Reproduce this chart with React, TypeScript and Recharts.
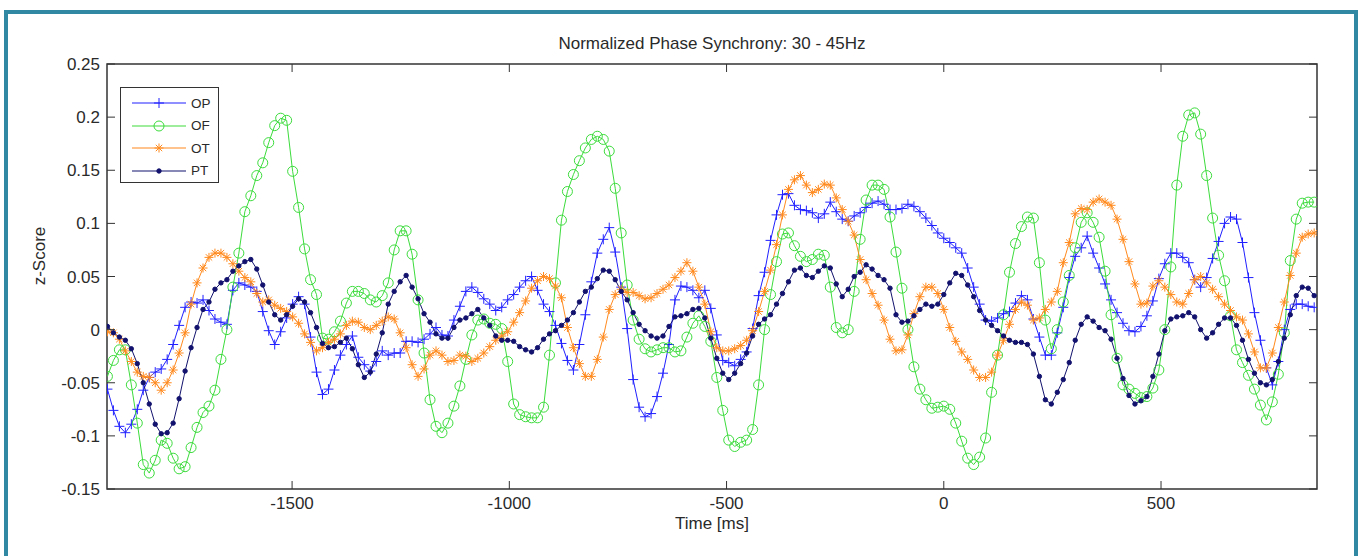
import React from "react";
import { LineChart, Line, XAxis, YAxis, ReferenceArea, Legend } from "recharts";

// sampling of the recording (ms)
const SAMPLE_START = -1925;
const SAMPLE_STEP = 13.75;

const op = [
  -0.056, -0.076, -0.091, -0.097, -0.089, -0.075, -0.057, -0.045, -0.04, -0.037,
  -0.028, -0.014, 0.004, 0.021, 0.026, 0.025, 0.028, 0.018, 0.01, 0.007,
  0.005, 0.037, 0.044, 0.042, 0.04, 0.036, 0.017, -0.001, -0.014, -0.002,
  0.011, 0.024, 0.031, 0.024, -0.007, -0.04, -0.061, -0.056, -0.038, -0.024,
  -0.014, -0.006, -0.026, -0.033, -0.039, -0.03, -0.02, -0.024, -0.022, -0.022,
  -0.011, -0.011, -0.012, -0.009, -0.004, 0.002, -0.005, -0.006, 0.009, 0.022,
  0.036, 0.04, 0.035, 0.029, 0.024, 0.018, 0.021, 0.028, 0.033, 0.04,
  0.046, 0.05, 0.037, 0.024, 0.017, 0.004, -0.013, -0.029, -0.038, -0.014,
  0.014, 0.045, 0.072, 0.085, 0.096, 0.073, 0.04, 0.001, -0.047, -0.073,
  -0.082, -0.079, -0.063, -0.041, -0.014, 0.028, 0.041, 0.04, 0.037, 0.03,
  0.037, 0.02, -0.005, -0.029, -0.031, -0.034, -0.028, -0.021, 0.001, 0.032,
  0.054, 0.084, 0.108, 0.127, 0.128, 0.117, 0.113, 0.112, 0.11, 0.105,
  0.109, 0.12, 0.111, 0.104, 0.102, 0.107, 0.11, 0.115, 0.119, 0.121,
  0.118, 0.113, 0.113, 0.114, 0.118, 0.116, 0.111, 0.105, 0.098, 0.091,
  0.086, 0.082, 0.077, 0.072, 0.058, 0.04, 0.024, 0.009, 0.008, 0.011,
  0.015, 0.017, 0.025, 0.032, 0.028, 0.01, -0.007, -0.024, -0.024, -0.003,
  0.021, 0.049, 0.069, 0.077, 0.088, 0.072, 0.058, 0.043, 0.028, 0.016,
  0.006, -0.001, -0.002, 0.003, 0.013, 0.027, 0.048, 0.062, 0.072, 0.072,
  0.068, 0.063, 0.047, 0.04, 0.049, 0.067, 0.083, 0.1, 0.106, 0.104,
  0.082, 0.049, 0.016, -0.01, -0.036, -0.052, -0.03, 0.0, 0.019, 0.024,
  0.024, 0.022, 0.021,
];

const of = [
  -0.044, -0.029, -0.019, -0.019, -0.052, -0.088, -0.127, -0.135, -0.123, -0.104,
  -0.107, -0.121, -0.131, -0.129, -0.111, -0.092, -0.078, -0.072, -0.057, -0.028,
  0.0, 0.04, 0.072, 0.111, 0.126, 0.145, 0.157, 0.176, 0.192, 0.199,
  0.197, 0.149, 0.115, 0.076, 0.047, 0.033, -0.008, -0.009, -0.002, 0.008,
  0.025, 0.036, 0.036, 0.034, 0.028, 0.026, 0.032, 0.044, 0.075, 0.093,
  0.093, 0.071, 0.028, -0.022, -0.066, -0.091, -0.097, -0.088, -0.072, -0.053,
  -0.028, -0.005, 0.009, 0.01, 0.006, 0.005, 0.001, -0.03, -0.07, -0.08,
  -0.082, -0.083, -0.083, -0.073, -0.024, 0.044, 0.103, 0.13, 0.146, 0.159,
  0.171, 0.179, 0.182, 0.179, 0.168, 0.133, 0.091, 0.042, 0.009, -0.009,
  -0.018, -0.021, -0.019, -0.017, -0.017, -0.021, -0.02, -0.007, 0.006, 0.013,
  0.003, -0.011, -0.045, -0.076, -0.104, -0.11, -0.106, -0.104, -0.094, -0.052,
  0.0, 0.033, 0.064, 0.09, 0.091, 0.079, 0.069, 0.064, 0.066, 0.071,
  0.07, 0.04, 0.002, -0.003, 0.0, 0.036, 0.085, 0.122, 0.136, 0.136,
  0.132, 0.106, 0.073, 0.039, 0.0, -0.035, -0.056, -0.066, -0.074, -0.073,
  -0.072, -0.075, -0.088, -0.105, -0.121, -0.127, -0.12, -0.102, -0.059, -0.024,
  0.014, 0.054, 0.081, 0.097, 0.106, 0.105, 0.063, 0.009, -0.018, 0.0,
  0.026, 0.051, 0.077, 0.101, 0.11, 0.101, 0.087, 0.055, 0.014, -0.027,
  -0.052, -0.056, -0.06, -0.064, -0.063, -0.055, -0.038, 0.0, 0.059, 0.136,
  0.182, 0.202, 0.204, 0.184, 0.145, 0.105, 0.07, 0.046, 0.013, -0.019,
  -0.031, -0.043, -0.056, -0.071, -0.085, -0.068, -0.042, -0.003, 0.065, 0.104,
  0.119, 0.12, 0.12,
];

const ot = [
  -0.002, -0.003, -0.009, -0.02, -0.03, -0.04, -0.044, -0.045, -0.05, -0.057,
  -0.05, -0.038, -0.022, -0.003, 0.024, 0.044, 0.058, 0.068, 0.072, 0.072,
  0.068, 0.062, 0.055, 0.049, 0.045, 0.034, 0.026, 0.028, 0.023, 0.02,
  0.017, 0.012, 0.006, -0.004, -0.012, -0.02, -0.017, -0.012, -0.009, -0.004,
  0.004, 0.008, 0.007, 0.002, 0.0, 0.004, 0.008, 0.012, 0.01, -0.003,
  -0.017, -0.033, -0.044, -0.037, -0.024, -0.02, -0.024, -0.03, -0.029, -0.024,
  -0.025, -0.03, -0.027, -0.022, -0.016, -0.01, -0.006, -0.002, 0.007, 0.016,
  0.027, 0.039, 0.046, 0.05, 0.048, 0.041, 0.03, 0.002, -0.017, -0.032,
  -0.044, -0.044, -0.028, -0.007, 0.019, 0.033, 0.038, 0.035, 0.035, 0.032,
  0.029, 0.03, 0.034, 0.038, 0.042, 0.049, 0.055, 0.063, 0.055, 0.04,
  0.024, -0.002, -0.017, -0.02, -0.02, -0.018, -0.015, -0.01, -0.001, 0.017,
  0.036, 0.056, 0.08, 0.108, 0.132, 0.141, 0.145, 0.136, 0.129, 0.132,
  0.137, 0.136, 0.124, 0.113, 0.102, 0.089, 0.066, 0.047, 0.034, 0.023,
  0.009, -0.009, -0.02, -0.019, -0.005, 0.015, 0.031, 0.04, 0.04, 0.034,
  0.019, 0.002, -0.011, -0.021, -0.028, -0.038, -0.045, -0.045, -0.04, -0.024,
  -0.01, 0.005, 0.019, 0.026, 0.023, 0.009, 0.011, 0.019, 0.026, 0.036,
  0.063, 0.082, 0.109, 0.114, 0.113, 0.12, 0.123, 0.12, 0.117, 0.104,
  0.085, 0.064, 0.043, 0.024, 0.025, 0.041, 0.046, 0.04, 0.033, 0.026,
  0.024, 0.034, 0.047, 0.05, 0.044, 0.038, 0.031, 0.024, 0.018, 0.012,
  0.009, -0.004, -0.021, -0.036, -0.036, -0.022, 0.002, 0.026, 0.051, 0.072,
  0.087, 0.09, 0.091,
];

const pt = [
  0.003, -0.003, -0.007, -0.01, -0.018, -0.032, -0.05, -0.07, -0.089, -0.098,
  -0.097, -0.088, -0.065, -0.039, -0.017, 0.002, 0.019, 0.026, 0.038, 0.044,
  0.047, 0.055, 0.06, 0.064, 0.066, 0.057, 0.042, 0.026, 0.014, 0.009,
  0.014, 0.022, 0.029, 0.026, 0.016, 0.002, -0.013, -0.017, -0.016, -0.012,
  -0.008, -0.018, -0.033, -0.045, -0.04, -0.023, -0.003, 0.024, 0.036, 0.045,
  0.051, 0.04, 0.029, 0.015, 0.007, -0.004, -0.008, -0.008, 0.002, 0.009,
  0.011, 0.015, 0.019, 0.011, 0.004, -0.006, -0.01, -0.01, -0.011, -0.016,
  -0.019, -0.021, -0.017, -0.009, -0.004, -0.001, 0.004, 0.009, 0.016, 0.026,
  0.036, 0.04, 0.048, 0.056, 0.055, 0.047, 0.036, 0.028, 0.016, 0.005,
  -0.001, -0.006, -0.008, -0.006, 0.003, 0.012, 0.013, 0.015, 0.019, 0.02,
  0.011, -0.008, -0.027, -0.041, -0.047, -0.041, -0.032, -0.022, -0.006, 0.005,
  0.01, 0.014, 0.024, 0.034, 0.045, 0.056, 0.058, 0.051, 0.049, 0.055,
  0.06, 0.058, 0.043, 0.031, 0.038, 0.05, 0.054, 0.061, 0.057, 0.051,
  0.047, 0.039, 0.014, 0.007, 0.008, 0.013, 0.019, 0.024, 0.022, 0.024,
  0.033, 0.044, 0.053, 0.051, 0.042, 0.031, 0.018, 0.009, 0.004, -0.001,
  -0.006, -0.01, -0.012, -0.012, -0.014, -0.023, -0.044, -0.066, -0.07, -0.059,
  -0.047, -0.031, -0.01, 0.005, 0.012, 0.008, 0.002, -0.001, -0.009, -0.027,
  -0.046, -0.062, -0.07, -0.067, -0.063, -0.044, -0.023, -0.001, 0.01, 0.012,
  0.013, 0.016, 0.012, 0.0, -0.008, -0.003, 0.005, 0.011, 0.011, 0.004,
  -0.01, -0.028, -0.041, -0.05, -0.052, -0.047, -0.03, -0.008, 0.014, 0.032,
  0.04, 0.039, 0.032,
];

const xTicks = [-1500, -1000, -500, 0, 500];
const yTicks = [-0.15, -0.1, -0.05, 0, 0.05, 0.1, 0.15, 0.2, 0.25];
const yTickLabels = ["-0.15", "-0.1", "-0.05", "0", "0.05", "0.1", "0.15", "0.2", "0.25"];

const X_DOMAIN = [-1926, 859];
const Y_DOMAIN = [-0.15, 0.25];

const PLOT = { left: 107, top: 64, right: 1317, bottom: 489 };
const AXIS = "#333";
const TEXT = "#2a2a2a";
const FONT = "'Liberation Sans', Arial, sans-serif";

const series = [
  { key: "OP", color: "#2020ff", marker: "plus" },
  { key: "OF", color: "#3cdc3c", marker: "circle" },
  { key: "OT", color: "#ff8a1e", marker: "star" },
  { key: "PT", color: "#12126e", marker: "dot" },
];

const data = op.map((v, i) => ({
  t: SAMPLE_START + i * SAMPLE_STEP,
  OP: v,
  OF: of[i],
  OT: ot[i],
  PT: pt[i],
}));

function Marker({ shape, color, cx, cy }: any) {
  if (shape === "plus") {
    return (
      <g stroke={color} strokeWidth={1}>
        <line x1={cx - 5} x2={cx + 5} y1={cy} y2={cy} />
        <line x1={cx} x2={cx} y1={cy - 5} y2={cy + 5} />
      </g>
    );
  }
  if (shape === "circle") {
    return <circle cx={cx} cy={cy} r={5} fill="none" stroke={color} strokeWidth={1} />;
  }
  if (shape === "star") {
    return (
      <g stroke={color} strokeWidth={1}>
        <line x1={cx - 4.5} x2={cx + 4.5} y1={cy} y2={cy} />
        <line x1={cx} x2={cx} y1={cy - 4.5} y2={cy + 4.5} />
        <line x1={cx - 3.2} x2={cx + 3.2} y1={cy - 3.2} y2={cy + 3.2} />
        <line x1={cx - 3.2} x2={cx + 3.2} y1={cy + 3.2} y2={cy - 3.2} />
      </g>
    );
  }
  return <circle cx={cx} cy={cy} r={2.2} fill={color} stroke={color} />;
}

const makeDot = (shape: string, color: string) => (props: any) => {
  const { cx, cy, index } = props;
  if (cx == null || cy == null) return <g key={`d-${index}`} />;
  return (
    <g key={`d-${index}`}>
      <Marker shape={shape} color={color} cx={cx} cy={cy} />
    </g>
  );
};

const XTick = (props: any) => {
  const { x, payload } = props;
  return (
    <g>
      <line x1={x} x2={x} y1={PLOT.bottom} y2={PLOT.bottom - 8} stroke={AXIS} />
      <line x1={x} x2={x} y1={PLOT.top} y2={PLOT.top + 8} stroke={AXIS} />
      <text x={x} y={PLOT.bottom + 20} textAnchor="middle" fill={TEXT} fontSize={17} fontFamily={FONT}>
        {String(payload.value)}
      </text>
    </g>
  );
};

const YTick = (props: any) => {
  const { y, payload } = props;
  const label = yTickLabels[yTicks.indexOf(payload.value)];
  return (
    <g>
      <line x1={PLOT.left} x2={PLOT.left + 8} y1={y} y2={y} stroke={AXIS} />
      <line x1={PLOT.right - 8} x2={PLOT.right} y1={y} y2={y} stroke={AXIS} />
      <text x={PLOT.left - 7} y={y + 6} textAnchor="end" fill={TEXT} fontSize={17} fontFamily={FONT}>
        {label}
      </text>
    </g>
  );
};

function LegendBox() {
  return (
    <div
      style={{
        width: 99,
        height: 96,
        boxSizing: "border-box",
        border: `1.5px solid ${AXIS}`,
        background: "#fff",
        padding: "4px 0 0 10px",
      }}
    >
      {series.map((s) => (
        <div key={s.key} style={{ display: "flex", alignItems: "center", height: 22.5 }}>
          <svg width={56} height={14}>
            <line x1={1} x2={55} y1={7} y2={7} stroke={s.color} strokeWidth={1.2} />
            <Marker shape={s.marker} color={s.color} cx={28} cy={7} />
          </svg>
          <span style={{ fontFamily: FONT, fontSize: 13.5, color: TEXT, marginLeft: 4 }}>{s.key}</span>
        </div>
      ))}
    </div>
  );
}

export default function App() {
  return (
    <div
      style={{
        position: "absolute",
        left: 0,
        top: 0,
        width: 1362,
        height: 556,
        overflow: "hidden",
        background: "#fff",
      }}
    >
      <div
        style={{
          position: "absolute",
          left: 4,
          top: 10,
          width: 1354,
          height: 620,
          boxSizing: "border-box",
          border: "4px solid #3088a2",
        }}
      />
      <div
        style={{
          position: "absolute",
          left: 0,
          width: 1424,
          top: 34,
          textAlign: "center",
          fontFamily: FONT,
          fontSize: 17,
          color: TEXT,
          whiteSpace: "nowrap",
        }}
      >
        Normalized Phase Synchrony: 30 - 45Hz
      </div>
      <div
        style={{
          position: "absolute",
          left: 40,
          top: 256,
          transform: "translate(-50%, -50%) rotate(-90deg)",
          fontFamily: FONT,
          fontSize: 17,
          color: TEXT,
          whiteSpace: "nowrap",
        }}
      >
        z-Score
      </div>
      <div
        style={{
          position: "absolute",
          left: 0,
          width: 1424,
          top: 514,
          textAlign: "center",
          fontFamily: FONT,
          fontSize: 17,
          color: TEXT,
        }}
      >
        Time [ms]
      </div>
      <div style={{ position: "absolute", left: 0, top: 0 }}>
        <LineChart
          width={1362}
          height={556}
          data={data}
          margin={{ top: PLOT.top, right: 1362 - PLOT.right, bottom: 556 - PLOT.bottom - 40, left: PLOT.left - 60 }}
        >
          <XAxis
            dataKey="t"
            type="number"
            domain={X_DOMAIN}
            ticks={xTicks}
            interval={0}
            height={40}
            axisLine={false}
            tickLine={false}
            tick={<XTick />}
            allowDataOverflow
          />
          <YAxis
            type="number"
            domain={Y_DOMAIN}
            ticks={yTicks}
            interval={0}
            width={60}
            axisLine={false}
            tickLine={false}
            tick={<YTick />}
            allowDataOverflow
          />
          <ReferenceArea
            x1={X_DOMAIN[0]}
            x2={X_DOMAIN[1]}
            y1={Y_DOMAIN[0]}
            y2={Y_DOMAIN[1]}
            fill="#fff"
            fillOpacity={0}
            stroke={AXIS}
            strokeWidth={1.5}
          />
          {series.map((s) => (
            <Line
              key={s.key}
              dataKey={s.key}
              stroke={s.color}
              strokeWidth={1}
              dot={makeDot(s.marker, s.color)}
              activeDot={false}
              isAnimationActive={false}
              type="linear"
            />
          ))}
          <Legend
            layout="vertical"
            align="center"
            verticalAlign="middle"
            content={() => <LegendBox />}
            wrapperStyle={{ left: 120, top: 87, width: 99, height: 96 }}
          />
        </LineChart>
      </div>
    </div>
  );
}
